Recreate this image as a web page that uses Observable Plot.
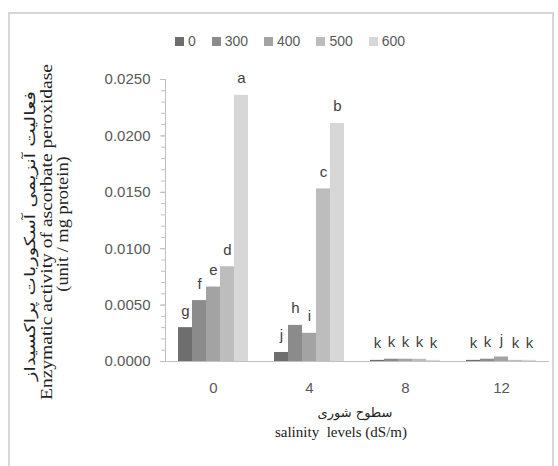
<!DOCTYPE html>
<html>
<head>
<meta charset="utf-8">
<script src="https://cdn.jsdelivr.net/npm/d3@7"></script>
<script src="https://cdn.jsdelivr.net/npm/@observablehq/plot@0.6"></script>
<style>
  body { margin: 0; background: #fff; }
  #wrap { position: relative; width: 558px; height: 466px; overflow: hidden; font-family: "Liberation Sans", Arial, sans-serif; }
  #frame { position: absolute; left: 8px; top: 12px; width: 546px; height: 470px; border: 2px solid #d6d6d6; box-sizing: border-box; }
  #legend { position: absolute; left: 0; top: 33px; width: 580px; display: flex; justify-content: center; gap: 16px; font-size: 14px; color: #595959; }
  #legend .item { display: flex; align-items: center; gap: 4px; }
  #legend .sw { width: 9px; height: 9px; display: inline-block; }
  .ytitle { position: absolute; white-space: nowrap; font-family: "Liberation Serif", "Times New Roman", serif; color: #222; line-height: 1; }
  .xtitle { position: absolute; white-space: nowrap; transform: translate(-50%, -50%); font-family: "Liberation Serif", "Times New Roman", serif; color: #222; }
  #chart { position: absolute; left: 0; top: 0; }
</style>
</head>
<body>
<div id="wrap">
  <div id="frame"></div>
  <div id="chart"></div>
  <div id="legend"></div>
  <div class="ytitle" style="left:30px; top:236px; font-size:15px; font-family:'DejaVu Sans', serif; transform: translate(-50%, -50%) rotate(-90deg) scaleX(1.3);">فعالیت آنزیمی آسکوربات پراکسیداز</div>
  <div class="ytitle" style="left:47px; top:232px; font-size:16px; transform: translate(-50%, -50%) rotate(-90deg) scaleX(1.22);">Enzymatic activity of ascorbate peroxidase</div>
  <div class="ytitle" style="left:63px; top:224px; font-size:16px; transform: translate(-50%, -50%) rotate(-90deg) scaleX(1.15);">(unit / mg protein)</div>
  <div class="xtitle" style="left:355px; top:412px; font-size:13px; font-family:'DejaVu Sans', serif;">سطوح شوری</div>
  <div class="xtitle" style="left:341px; top:432px; font-size:15px;">salinity&nbsp; levels (dS/m)</div>
</div>
<script>
const groups = ["0", "4", "8", "12"];
const doses = ["0", "300", "400", "500", "600"];
const colors = ["#6e6e6e", "#8b8b8b", "#a3a3a3", "#bdbdbd", "#d7d7d7"];

const vals0 = [0.0030, 0.0054, 0.0066, 0.0084, 0.0236];
const vals4 = [0.0008, 0.0032, 0.0025, 0.0153, 0.0211];
const vals8 = [0.0001, 0.0002, 0.0002, 0.0002, 0.0001];
const vals12 = [0.0001, 0.0002, 0.0004, 0.0001, 0.0001];

const letters0 = ["g", "f", "e", "d", "a"];
const letters4 = ["j", "h", "i", "c", "b"];
const letters8 = ["k", "k", "k", "k", "k"];
const letters12 = ["k", "k", "j", "k", "k"];

const yMajor = [0, 0.005, 0.010, 0.015, 0.020, 0.025];
const yMinor = d3.range(0, 26).map(i => i / 1000);

const series = [vals0, vals4, vals8, vals12];
const letterSets = [letters0, letters4, letters8, letters12];
const data = groups.flatMap((g, i) => doses.map((d, j) => ({
  group: g, dose: d, value: series[i][j], letter: letterSets[i][j]
})));

// legend
const legend = document.getElementById("legend");
doses.forEach((d, i) => {
  const item = document.createElement("span");
  item.className = "item";
  const sw = document.createElement("span");
  sw.className = "sw";
  sw.style.background = colors[i];
  item.appendChild(sw);
  item.appendChild(document.createTextNode(d));
  legend.appendChild(item);
});

const chart = Plot.plot({
  width: 558,
  height: 466,
  marginLeft: 163,
  marginRight: 8,
  marginTop: 79,
  marginBottom: 105,
  style: { fontFamily: "'Liberation Sans', Arial, sans-serif", fontSize: "15px", color: "#595959", background: "transparent" },
  fx: { domain: groups, padding: 0, label: null, axis: "bottom", tickSize: 0, tickPadding: 21 },
  x: { domain: doses, axis: null, paddingInner: 0, paddingOuter: 0.85 },
  y: { domain: [0, 0.025], axis: null },
  color: { domain: doses, range: colors },
  marks: [
    Plot.axisY(yMinor, { tickSize: 4, tickFormat: () => "", stroke: "#c0c0c0", label: null }),
    Plot.axisY(yMajor, { tickSize: 5, tickPadding: 10, tickFormat: d3.format(".4f"), stroke: "#c0c0c0", label: null }),
    Plot.frame({ anchor: "left", facetAnchor: "left", stroke: "#c0c0c0" }),
    Plot.ruleY([0], { stroke: "#c0c0c0" }),
    Plot.barY(data, { fx: "group", x: "dose", y: "value", fill: "dose" }),
    Plot.text(data, { fx: "group", x: "dose", y: "value", text: "letter", dy: -12, lineAnchor: "bottom", fontSize: 15, fill: "#404040" })
  ]
});
document.getElementById("chart").appendChild(chart);
</script>
</body>
</html>
